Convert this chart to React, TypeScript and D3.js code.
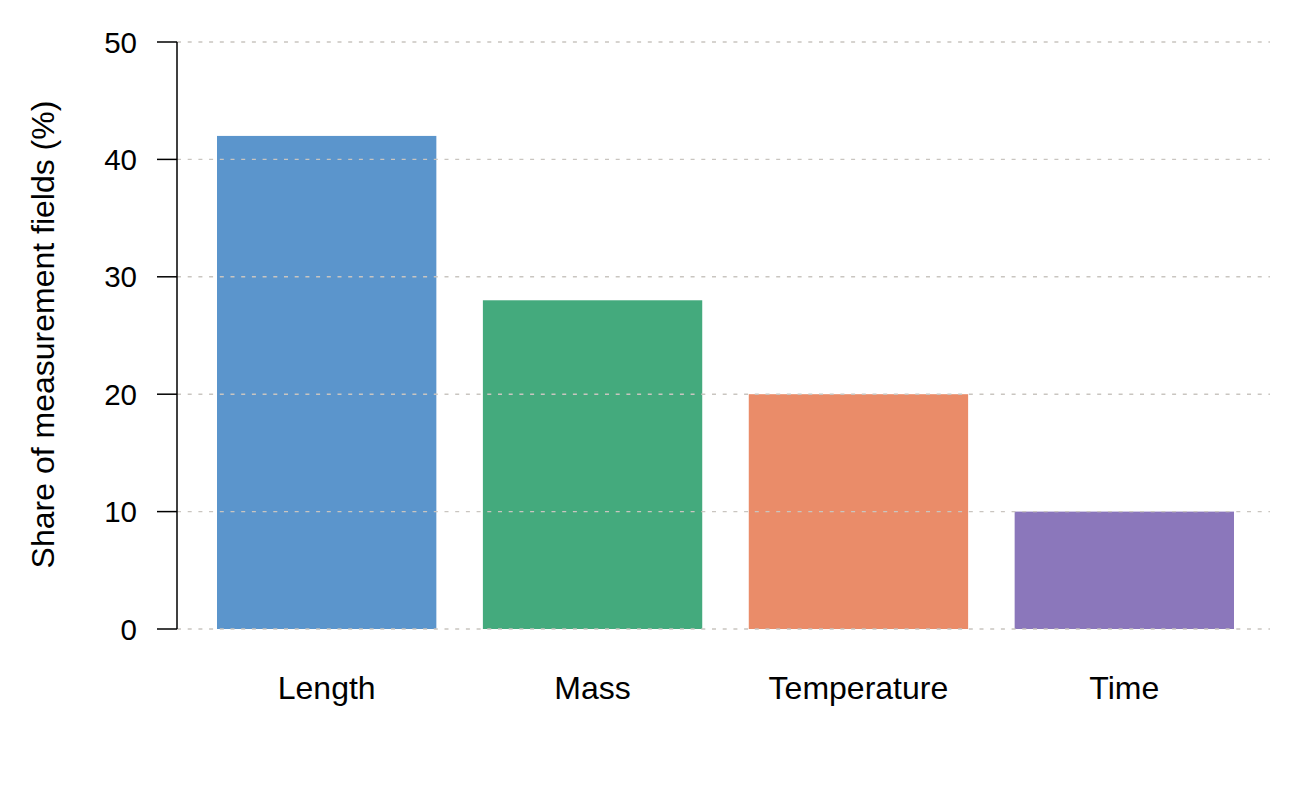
import React, { useEffect, useRef } from 'react';
import * as d3 from 'd3';

const categories = ['Length', 'Mass', 'Temperature', 'Time'];
const shares = [42, 28, 20, 10];
const barColors = ['#5b95cc', '#44aa7d', '#ea8c69', '#8b77bb'];
const yTicks = [0, 10, 20, 30, 40, 50];
const yLabel = 'Share of measurement fields (%)';

export default function App() {
  const svgRef = useRef<SVGSVGElement | null>(null);

  useEffect(() => {
    document.body.style.margin = '0';
    if (!svgRef.current) return;

    d3.select(svgRef.current).selectAll('*').remove();

    const width = 1305;
    const height = 806;
    const font = '"Liberation Sans", Arial, Helvetica, sans-serif';

    const svg = d3.select(svgRef.current)
      .attr('width', width)
      .attr('height', height)
      .style('font-family', font);

    svg.append('rect')
      .attr('width', width)
      .attr('height', height)
      .attr('fill', '#ffffff');

    // Scales
    const x = d3.scaleBand<string>()
      .domain(categories)
      .range([217, 1234])
      .paddingInner(0.175)
      .paddingOuter(0);

    const y = d3.scaleLinear()
      .domain([0, 50])
      .range([629, 42]);

    const axisX = 177;
    const gridEnd = 1270;

    // Bars
    svg.append('g')
      .selectAll('rect')
      .data(shares)
      .join('rect')
      .attr('x', (_, i) => x(categories[i]) ?? 0)
      .attr('y', d => y(d))
      .attr('width', x.bandwidth())
      .attr('height', d => y(0) - y(d))
      .attr('fill', (_, i) => barColors[i]);

    // Gridlines (drawn on top of the bars)
    svg.append('g')
      .selectAll('line')
      .data(yTicks)
      .join('line')
      .attr('x1', axisX)
      .attr('x2', gridEnd)
      .attr('y1', d => y(d))
      .attr('y2', d => y(d))
      .attr('stroke', '#c9c5c0')
      .attr('stroke-width', 1.4)
      .attr('stroke-dasharray', '4,6.7');

    // Y axis
    const yAxis = svg.append('g');
    yAxis.append('line')
      .attr('x1', axisX)
      .attr('x2', axisX)
      .attr('y1', y(50))
      .attr('y2', y(0))
      .attr('stroke', '#000')
      .attr('stroke-width', 1.5);

    yAxis.selectAll('line.tick')
      .data(yTicks)
      .join('line')
      .attr('class', 'tick')
      .attr('x1', axisX - 20)
      .attr('x2', axisX)
      .attr('y1', d => y(d))
      .attr('y2', d => y(d))
      .attr('stroke', '#000')
      .attr('stroke-width', 1.5);

    yAxis.selectAll('text')
      .data(yTicks)
      .join('text')
      .attr('x', 137)
      .attr('y', d => y(d))
      .attr('dy', '0.36em')
      .attr('text-anchor', 'end')
      .attr('font-size', 29.5)
      .attr('fill', '#000')
      .text(d => String(d));

    // Category labels
    svg.append('g')
      .selectAll('text')
      .data(categories)
      .join('text')
      .attr('x', d => (x(d) ?? 0) + x.bandwidth() / 2)
      .attr('y', 699)
      .attr('text-anchor', 'middle')
      .attr('font-size', 32)
      .attr('fill', '#000')
      .text(d => d);

    // Y axis title
    svg.append('text')
      .attr('transform', `translate(54,${(y(0) + y(50)) / 2 - 1}) rotate(-90)`)
      .attr('text-anchor', 'middle')
      .attr('font-size', 32)
      .attr('fill', '#000')
      .text(yLabel);
  }, []);

  return <svg ref={svgRef}></svg>;
}
